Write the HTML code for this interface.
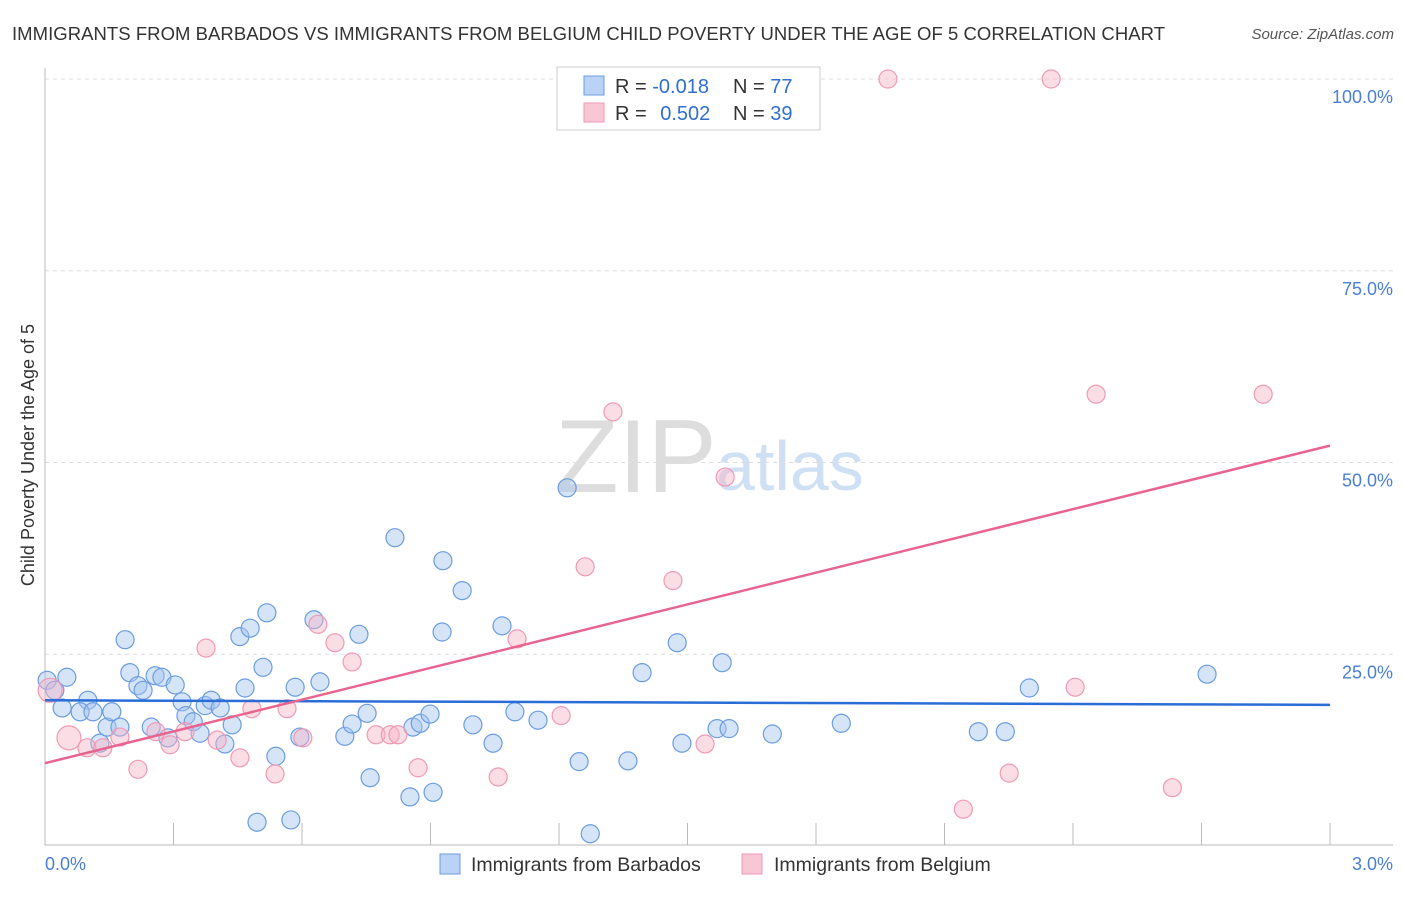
<!DOCTYPE html>
<html><head><meta charset="utf-8"><style>
body{margin:0;background:#fff;font-family:"Liberation Sans",sans-serif;}
svg text{font-family:"Liberation Sans",sans-serif;}
</style></head><body>
<svg id="chart" width="1406" height="892" xmlns="http://www.w3.org/2000/svg">
<text x="12" y="40" font-size="18.5" fill="#333" textLength="1153">IMMIGRANTS FROM BARBADOS VS IMMIGRANTS FROM BELGIUM CHILD POVERTY UNDER THE AGE OF 5 CORRELATION CHART</text>
<text x="1394" y="39" font-size="15" fill="#555" font-style="italic" text-anchor="end">Source: ZipAtlas.com</text>
<text x="555" y="492" font-size="104" fill="#ddd" font-family="Liberation Serif,serif">ZIP</text>
<text x="716" y="490" font-size="70" fill="#cfe0f5">atlas</text>
<text transform="translate(34,455) rotate(-90)" font-size="18" fill="#333" text-anchor="middle">Child Poverty Under the Age of 5</text>
<g id="grid"></g><g id="marks"></g><g id="trends"></g>
<g>
<rect x="557" y="67" width="263" height="63" fill="#fff" stroke="#ccc"/>
<rect x="584" y="76" width="20" height="19" fill="#b9d2f5" stroke="#6b9de0"/>
<rect x="584" y="103" width="20" height="19" fill="#f9c6d5" stroke="#ef9ab4"/>
<text x="615" y="93" font-size="20" fill="#333">R = <tspan fill="#2f6fd0">-0.018</tspan></text>
<text x="733" y="93" font-size="20" fill="#333">N = <tspan fill="#2f6fd0">77</tspan></text>
<text x="615" y="120" font-size="20" fill="#333">R = <tspan fill="#2f6fd0" dx="8">0.502</tspan></text>
<text x="733" y="120" font-size="20" fill="#333">N = <tspan fill="#2f6fd0">39</tspan></text>
</g>
<g>
<rect x="440" y="854" width="20" height="20" fill="#b9d2f5" stroke="#6b9de0"/>
<text x="471" y="871" font-size="19.5" fill="#333">Immigrants from Barbados</text>
<rect x="742" y="854" width="20" height="20" fill="#f9c6d5" stroke="#ef9ab4"/>
<text x="774" y="871" font-size="19.5" fill="#333">Immigrants from Belgium</text>
</g>
</svg>
<script>
const yTicks=[100,75,50,25];
const yTickLabels=["100.0%","75.0%","50.0%","25.0%"];
const xTickLabels=["0.0%","3.0%"];
const blueX=[.005,.051,.023,.040,.100,.082,.112,.128,.145,.156,.175,.187,.198,.217,.229,.248,.257,.273,.287,.304,.320,.329,.346,.362,.374,.388,.409,.420,.437,.455,.467,.479,.495,.509,.518,.539,.574,.584,.595,.628,.642,.700,.717,.733,.752,.759,.817,.852,.859,.876,.899,.906,.927,.929,.974,.999,1.046,1.067,1.097,1.151,1.219,1.247,1.273,1.361,1.394,1.476,1.487,1.569,1.581,1.597,1.698,1.859,2.179,2.242,2.298,2.713];
const blueY=[21.6,22.0,20.3,18.0,19.0,17.5,17.5,13.4,15.5,17.5,15.5,26.9,22.6,20.9,20.3,15.5,22.2,22.0,14.1,21.0,18.8,17.0,16.2,14.7,18.3,19.0,18.0,13.3,15.8,27.3,20.6,28.4,3.1,23.3,30.4,11.7,3.4,20.7,14.2,29.5,21.4,14.3,15.9,27.6,17.3,8.9,40.2,6.4,15.5,16.0,17.2,7.0,27.9,37.2,33.3,15.8,13.4,28.7,17.5,16.4,46.7,11.0,1.6,11.1,22.6,26.5,13.4,15.3,23.9,15.3,14.6,16.0,14.9,14.9,20.6,22.4];
const pinkX=[.012,.056,.098,.135,.175,.217,.259,.292,.327,.376,.402,.455,.483,.537,.565,.602,.637,.677,.717,.773,.806,.824,.871,1.058,1.102,1.205,1.261,1.326,1.466,1.541,1.588,1.968,2.144,2.251,2.349,2.405,2.454,2.632,2.844];
const pinkY=[20.3,14.1,12.8,12.8,14.2,10.0,14.9,13.2,14.9,25.8,13.8,11.5,17.9,9.4,17.9,14.1,28.9,26.5,24.0,14.5,14.5,14.5,10.2,9.0,27.0,17.0,36.4,56.6,34.6,13.3,48.1,100,4.8,9.5,100,20.7,58.9,7.6,58.9];
const pinkBig=[0,1];
const blueTrend=[19.0,18.4];
const pinkTrend=[10.8,52.2];
const X=v=>45+v/3*1285, Y=v=>846-v/100*767;
const NS="http://www.w3.org/2000/svg";
function mk(tag,attrs,parent){const e=document.createElementNS(NS,tag);for(const k in attrs)e.setAttribute(k,attrs[k]);document.getElementById(parent).appendChild(e);return e;}
let e;
yTicks.forEach((t,i)=>{
 e=mk('line',{x1:45,x2:1393,y1:Y(t),y2:Y(t),stroke:'#ddd','stroke-dasharray':'4,4'},'grid');
 
 
 e=mk('text',{x:1393,y:Y(t)+24,'font-size':18,fill:'#4a7fd6','text-anchor':'end'},'grid');e.textContent=yTickLabels[i];
 
 
});
e=mk('line',{x1:45,x2:45,y1:68,y2:845,stroke:'#bbb'},'grid');


e=mk('line',{x1:45,x2:1393,y1:845,y2:845,stroke:'#bbb'},'grid');


for(let i=1;i<=10;i++){const x=X(i*0.3);
 e=mk('line',{x1:x,x2:x,y1:823,y2:845,stroke:'#bbb'},'grid');
 
 }
e=mk('text',{x:45,y:870,'font-size':18,fill:'#4a7fd6'},'grid');e.textContent=xTickLabels[0];


e=mk('text',{x:1393,y:870,'font-size':18,fill:'#4a7fd6','text-anchor':'end'},'grid');e.textContent=xTickLabels[1];


blueX.forEach((v,i)=>{
 e=mk('circle',{cx:X(v),cy:Y(blueY[i]),r:9,fill:'rgba(164,196,240,0.45)',stroke:'#6b9de0','stroke-width':1.2},'marks');
 
 
});
pinkX.forEach((v,i)=>{
 e=mk('circle',{cx:X(v),cy:Y(pinkY[i]),r:pinkBig.includes(i)?12:9,fill:'rgba(246,180,200,0.45)',stroke:'#ef9ab4','stroke-width':1.2},'marks');
 
 
});
e=mk('line',{x1:X(0),x2:X(3),y1:Y(blueTrend[0]),y2:Y(blueTrend[1]),stroke:'#2a6dd6','stroke-width':2.5},'trends');


e=mk('line',{x1:X(0),x2:X(3),y1:Y(pinkTrend[0]),y2:Y(pinkTrend[1]),stroke:'#e8648f','stroke-width':2.5},'trends');


</script>
</body></html>
